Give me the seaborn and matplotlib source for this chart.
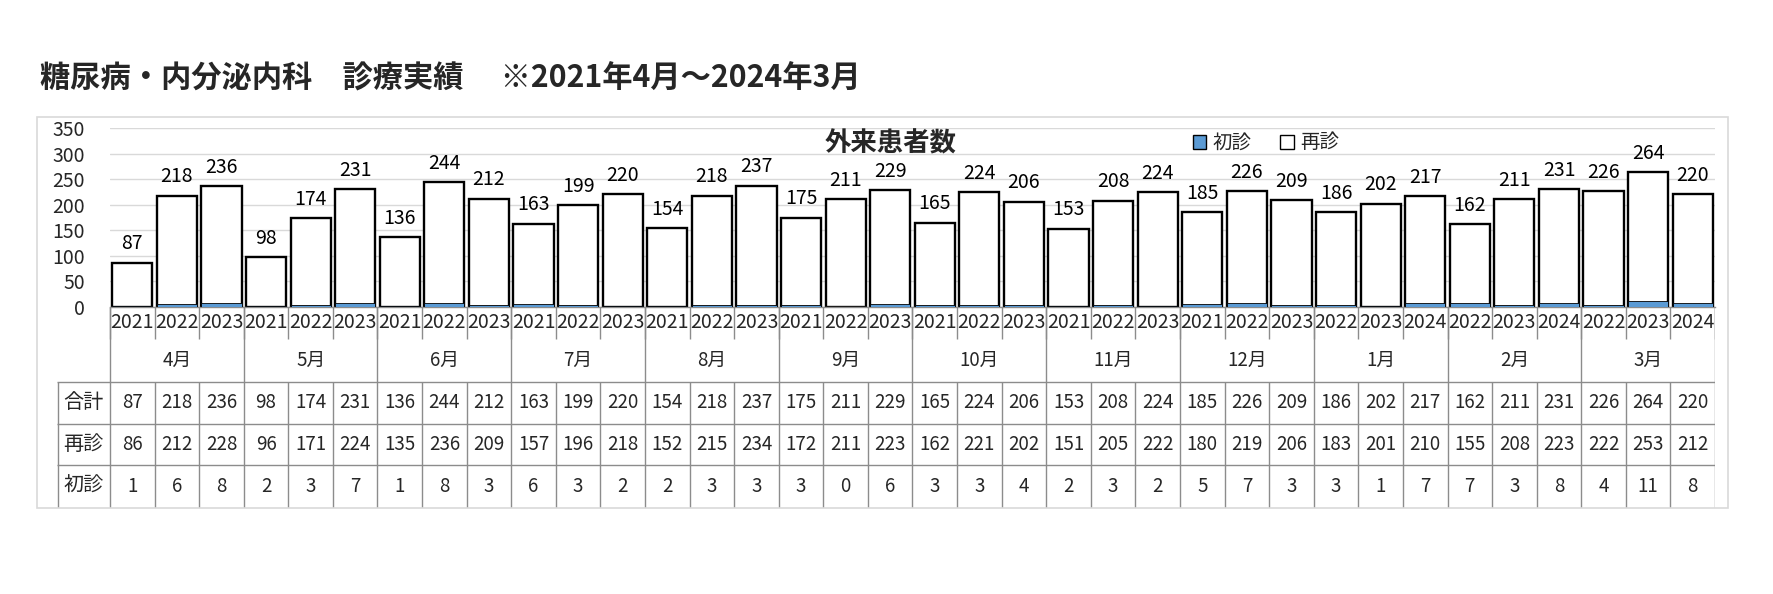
import numpy as np
import pandas as pd
import matplotlib
matplotlib.use("Agg")
import matplotlib.pyplot as plt
from matplotlib.patches import Rectangle, Patch
import seaborn as sns

# ---------------- data ----------------
months = ["4月", "5月", "6月", "7月", "8月", "9月", "10月", "11月", "12月", "1月", "2月", "3月"]
years = ["2021", "2022", "2023"] * 9 + ["2022", "2023", "2024"] * 3
total = [87, 218, 236, 98, 174, 231, 136, 244, 212, 163, 199, 220,
         154, 218, 237, 175, 211, 229, 165, 224, 206, 153, 208, 224,
         185, 226, 209, 186, 202, 217, 162, 211, 231, 226, 264, 220]
revisit = [86, 212, 228, 96, 171, 224, 135, 236, 209, 157, 196, 218,
           152, 215, 234, 172, 211, 223, 162, 221, 202, 151, 205, 222,
           180, 219, 206, 183, 201, 210, 155, 208, 223, 222, 253, 212]
first = [1, 6, 8, 2, 3, 7, 1, 8, 3, 6, 3, 2,
         2, 3, 3, 3, 0, 6, 3, 3, 4, 2, 3, 2,
         5, 7, 3, 3, 1, 7, 7, 3, 8, 4, 11, 8]
row_labels = ["合計", "再診", "初診"]
yticks = [0, 50, 100, 150, 200, 250, 300, 350]
title = "糖尿病・内分泌内科　診療実績　 ※2021年4月～2024年3月"
chart_title = "外来患者数"
legend_labels = ["初診", "再診"]

# ---------------- style ----------------
sns.set_theme(style="white")
plt.rcParams["font.family"] = ["Noto Sans CJK JP", "DejaVu Sans"]

BLUE = "#5B9BD5"
GRID = "#D9D9D9"
LINE = "#8C8C8C"

W, H = 1774, 594
fig = plt.figure(figsize=(W / 100, H / 100), dpi=100)
fig.patch.set_facecolor("white")


def fx(px):
    return px / W


def fy(py):
    return 1 - py / H


n = len(total)
x_left_px, x_right_px = 110, 1715
y_zero_px, y_top_px = 307, 128

# outer frame
fig.add_artist(Rectangle((fx(37), fy(508)), fx(1728) - fx(37), fy(117) - fy(508),
                         transform=fig.transFigure, fill=False, edgecolor=GRID, lw=1.2))

# ---------------- chart ----------------
ax = fig.add_axes([fx(x_left_px), fy(y_zero_px), fx(x_right_px) - fx(x_left_px),
                   fy(y_top_px) - fy(y_zero_px)])
df = pd.DataFrame({"idx": np.arange(n), "total": total, "first": first, "revisit": revisit})
sns.barplot(data=df, x="idx", y="total", color="white", edgecolor="black", linewidth=1.7,
            width=0.9, saturation=1, ax=ax, zorder=2)
sns.barplot(data=df, x="idx", y="first", color=BLUE, edgecolor="black", linewidth=0.6,
            width=0.9, saturation=1, ax=ax, zorder=3)
ax.bar_label(ax.containers[0], labels=[str(v) for v in total], padding=6, fontsize=14,
             color="black")

ax.set_xlim(-0.5, n - 0.5)
ax.set_ylim(0, 350)
ax.set_yticks(yticks)
ax.set_yticklabels([str(t) for t in yticks], fontsize=14)
ax.tick_params(axis="y", length=0, pad=18)
ax.tick_params(axis="x", length=0, labelbottom=False)
ax.set_xlabel("")
ax.set_ylabel("")
ax.grid(axis="y", color=GRID, lw=1)
ax.set_axisbelow(True)
for s in ["top", "right", "left"]:
    ax.spines[s].set_visible(False)
ax.spines["bottom"].set_color(LINE)
ax.spines["bottom"].set_linewidth(1)
ax.patch.set_alpha(0)

fig.text(fx(891), fy(144), chart_title, ha="center", va="center", fontsize=19,
         fontweight="bold")
handles = [Patch(facecolor=BLUE, edgecolor="black", lw=1),
           Patch(facecolor="white", edgecolor="black", lw=1)]
ax.legend(handles, legend_labels, ncol=2, loc="center left",
          bbox_to_anchor=(fx(1183), fy(143)), bbox_transform=fig.transFigure,
          frameon=False, fontsize=14, handlelength=0.7, handleheight=0.7,
          handletextpad=0.3, columnspacing=1.5, borderpad=0)

fig.text(fx(40), fy(79), title, ha="left", va="center", fontsize=21.8, fontweight="bold")

# ---------------- table ----------------
unit = (x_right_px - x_left_px) / n
tab_left_px = 57
xl = -0.5 - (x_left_px - tab_left_px) / unit
tab = fig.add_axes([fx(tab_left_px), fy(508), fx(x_right_px) - fx(tab_left_px), fy(307) - fy(508)])
tab.set_xlim(xl, n - 0.5)
rb = [0, 32, 75, 117, 158, 201]
tab.set_ylim(rb[-1], 0)
tab.axis("off")

edges = np.arange(n + 1) - 0.5
tab.vlines(edges, rb[0], rb[1], color=LINE, lw=1)
tab.vlines(edges[::3], rb[0], rb[2], color=LINE, lw=1)
tab.vlines(edges, rb[2], rb[5], color=LINE, lw=1)
tab.vlines([xl + 0.02], rb[2], rb[5], color=LINE, lw=1)
tab.hlines(rb[2:5], xl, n - 0.5, color=LINE, lw=1)

for i, yv in enumerate(years):
    tab.text(i, (rb[0] + rb[1]) / 2, yv, ha="center", va="center", fontsize=14)
for k, m in enumerate(months):
    tab.text(3 * k + 1, (rb[1] + rb[2]) / 2, m, ha="center", va="center", fontsize=13.5)

rows = [total, revisit, first]
for r, (lab, vals) in enumerate(zip(row_labels, rows)):
    yc = (rb[2 + r] + rb[3 + r]) / 2
    tab.text((xl - 0.5) / 2, yc, lab, ha="center", va="center", fontsize=14.5)
    for i, v in enumerate(vals):
        tab.text(i, yc, str(v), ha="center", va="center", fontsize=13.5)

fig.savefig("out.png", dpi=100, facecolor="white")
